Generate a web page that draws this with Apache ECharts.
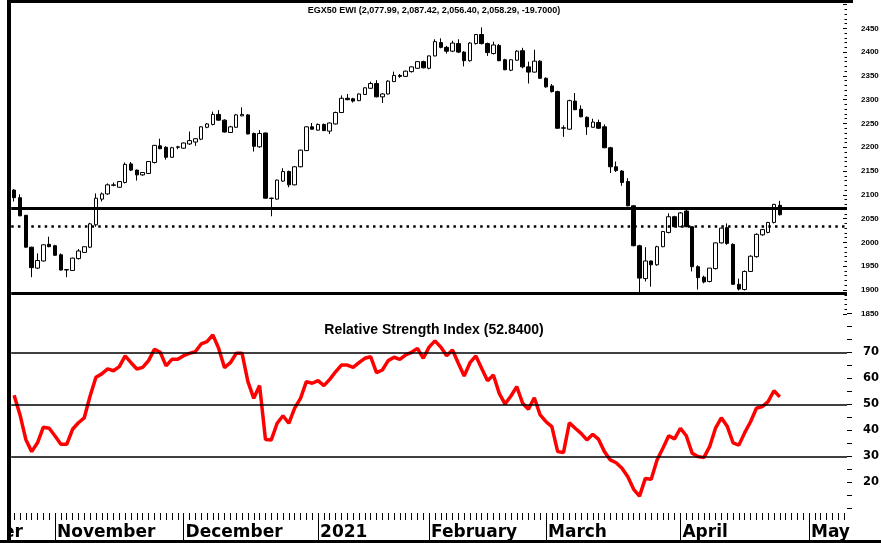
<!DOCTYPE html>
<html><head><meta charset="utf-8">
<script src="https://cdn.jsdelivr.net/npm/echarts@6/dist/echarts.min.js"></script>
<style>html,body{margin:0;padding:0;background:#fff}#c{width:881px;height:543px}</style>
</head><body><div id="c"></div>
<script>
// ---- data (open, high, low, close) per trading day ----
const candles = [
[2110,2112,2086,2094],[2094,2101,2055,2056],[2057,2058,1989,1990],[1990,1991,1927,1947],[1946,1977,1944,1962],
[1961,1996,1960,1995],[1996,2012,1990,1991],[1993,1995,1972,1973],[1974,1977,1941,1942],[1942,1943,1927,1943],
[1941,1968,1940,1967],[1966,1986,1964,1982],[1979,1991,1978,1991],[1990,2041,1988,2039],[2037,2103,2033,2093],
[2091,2105,2086,2102],[2102,2124,2100,2121],[2120,2126,2118,2121],[2116,2129,2115,2128],[2126,2168,2124,2164],
[2165,2169,2150,2152],[2152,2153,2130,2142],[2142,2148,2140,2147],[2145,2171,2144,2170],[2168,2205,2166,2204],
[2203,2218,2196,2197],[2200,2202,2174,2179],[2179,2201,2178,2199],[2200,2203,2196,2201],[2198,2210,2197,2209],
[2207,2233,2205,2214],[2211,2219,2203,2218],[2217,2244,2215,2243],[2242,2251,2240,2249],[2248,2275,2246,2269],
[2269,2278,2256,2257],[2257,2259,2231,2232],[2231,2245,2230,2243],[2242,2270,2241,2268],[2266,2284,2265,2269],
[2268,2270,2227,2228],[2229,2231,2191,2202],[2201,2236,2199,2229],[2230,2231,2092,2093],[2092.5,2094,2055,2093],
[2091,2132,2090,2131],[2129,2156,2127,2149],[2149,2151,2116,2121],[2121,2160,2120,2159],[2159,2195,2158,2194],
[2193,2244,2192,2243],[2243,2251,2237,2238],[2236,2250,2235,2248],[2248,2250,2234,2235],[2234,2252,2228,2251],
[2249,2275,2248,2273],[2273,2309,2272,2303],[2303,2312,2299,2300],[2302,2304,2294,2297],[2298,2313,2297,2312],
[2311,2326,2310,2325],[2324,2338,2323,2334],[2334,2341,2305,2306],[2306,2314,2293,2312],[2312,2341,2311,2339],
[2338,2359,2337,2351],[2351,2354,2346,2349],[2349,2361,2348,2360],[2359,2370,2357,2369],[2366,2381,2365,2380],
[2380,2382,2366,2367],[2366,2393,2364,2392],[2392,2427,2391,2422],[2420,2429,2408,2410],[2410,2413,2397,2402],
[2402,2424,2400,2419],[2418,2427,2398,2400],[2400,2402,2370,2382],[2382,2421,2380,2419],[2418,2438,2416,2437],
[2437,2452,2416,2418],[2418,2420,2392,2399],[2397,2422,2395,2415],[2414,2417,2381,2382],[2384,2386,2362,2363],
[2362,2385,2360,2384],[2383,2404,2382,2402],[2403,2409,2366,2369],[2369,2380,2334,2358],[2358,2405,2357,2381],
[2381,2383,2344,2345],[2345,2347,2325,2327],[2329,2333,2315,2317],[2317,2319,2239,2240],[2240,2246,2222,2241],
[2238,2300,2237,2298],[2297,2314,2278,2279],[2280,2288,2263,2264],[2263,2265,2226,2243],[2242,2260,2241,2253],
[2252,2258,2239,2240],[2243,2248,2198,2199],[2199,2201,2146,2159],[2159,2170,2148,2151],[2150,2152,2119,2126],
[2128,2135,2076,2077],[2077,2078,1992,1993],[1993,1995,1894,1925],[1924,1990,1918,1961],[1961,1962,1907,1953],
[1953,1993,1951,1991],[1991,2024,1990,2023],[2021,2061,2019,2054],[2054,2056,2032,2033],[2033,2064,2032,2062],
[2066,2071,2032,2033],[2033,2034,1939,1949],[1949,1952,1901,1926],[1927,1930,1914,1917],[1918,1946,1916,1946],
[1945,2000,1943,1999],[1999,2031,1998,2030],[2031,2040,1995,1998],[1996,1998,1911,1912],[1912,1924,1899,1902],
[1901,1941,1899,1939],[1939,1973,1938,1971],[1970,2019,1968,2017],[2016,2028,2014,2027],[2021,2043,2019,2042],
[2042,2081,2040,2080],[2077.99,2087.42,2056.40,2058.29]
];
const rsiValues = [
53.5,46,36.5,31.8,35.2,41.2,40.8,37.8,34.6,34.6,
40.4,42.9,44.8,53.2,60.4,61.7,63.6,62.9,64.5,68.6,
66,63.6,64.2,66.8,71.2,70,64.8,67.3,67.3,68.7,
69.6,70.2,73.2,74.1,76.7,71.5,64.1,66,69.6,69.6,
58.7,52.3,57.2,36.5,36.3,42.7,45.6,42.7,48.5,52.3,
58.7,58.1,59.1,57.2,59.6,62.5,65.1,65.1,64.2,66,
67.7,68.3,62.2,63.2,66.8,68.1,67.3,69,70,71.5,
67.7,72,74.4,72,68.7,70.9,65.8,60.9,66,68.6,
63.8,59.1,61.3,54.2,50.1,53.2,56.8,50.4,48.1,52.5,
45.9,43.3,41.4,31.8,31.5,42.9,40.8,38.8,36.3,38.5,
36.5,31.8,28.6,27.5,25.4,22.1,17.3,14.7,21.5,21.2,
28.6,33.1,37.9,36.7,40.8,37.9,31.2,29.9,29.5,33.7,
40.8,44.8,41.6,35.2,34.3,39.1,43.3,48.5,49.1,51,
55.2,52.84
];
const slotCount = 143;                       // trading-day slots on the axis (incl. future)
const monthLabelIdx = [2,7,29,52,71,91,114,136];
const monthLabelText = ['October','November','December','2021','February','March','April','May'];
const monthStartIdx = [7,29,52,71,91,114,136];
const priceLevels = {resistance:2072, pivot:2035, support:1894};
const rsiLevels = [70,50,30];
const priceAxisRange = [1850,2500,50];
const rsiAxisRange = [10,85,5];
const priceTitle = 'EGX50 EWI (2,077.99, 2,087.42, 2,056.40, 2,058.29, -19.7000)';
const rsiTitle = 'Relative Strength Index (52.8400)';

// ---- build ----
const slots = Array.from({length: slotCount}, (_, i) => String(i));
const labelledSlots = slots.map((s, i) => {
  const k = monthLabelIdx.indexOf(i);
  if (k < 0) return s;
  return k === 0
    ? {value: s, textStyle: {align: 'right', padding: [0, 3, 0, 0]}}
    : {value: s, textStyle: {align: 'left', padding: [0, 0, 0, 2]}};
});
const ohlc = candles.map(r => [r[0], r[3], r[2], r[1]]);

const L = 11.2, W = 835.8;
const chart = echarts.init(document.getElementById('c'), null, {renderer: 'canvas'});
const bold = {fontWeight: 'bold', color: '#000'};
chart.setOption({
  animation: false,
  backgroundColor: '#fff',
  title: [
    {text: priceTitle, left: 429, top: 1, textAlign: 'center',
     textStyle: Object.assign({fontFamily: 'Liberation Sans', fontSize: 9}, bold)},
    {text: rsiTitle, left: 429, top: 318, textAlign: 'center',
     textStyle: Object.assign({fontFamily: 'Liberation Sans', fontSize: 14}, bold)}
  ],
  grid: [
    {left: L, top: 4.54, width: W, height: 309.25, outerBoundsMode: 'none', containLabel: false},
    {left: L, top: 313.3, width: W, height: 195, outerBoundsMode: 'none', containLabel: false}
  ],
  xAxis: [
    {type: 'category', gridIndex: 0, position: 'bottom', data: slots, boundaryGap: true,
     axisLine: {show: false}, axisTick: {show: false}, axisLabel: {show: false}, splitLine: {show: false}},
    {type: 'category', gridIndex: 1, position: 'bottom', data: labelledSlots, boundaryGap: true, offset: 4.7,
     axisLine: {show: false},
     axisTick: {show: true, interval: 0, alignWithLabel: true, length: 7, lineStyle: {color: '#000', width: 1}},
     axisLabel: {show: true, interval: (i) => monthLabelIdx.includes(i), margin: 11, hideOverlap: false,
       formatter: (v, i) => monthLabelText[monthLabelIdx.indexOf(Number(v))] || '',
       fontFamily: 'DejaVu Sans', fontSize: 17, fontWeight: 'bold', color: '#000'},
     splitLine: {show: false}},
    {type: 'category', gridIndex: 1, position: 'bottom', data: slots, boundaryGap: true, offset: 4.7,
     axisLine: {show: false},
     axisTick: {show: true, interval: (i) => monthStartIdx.includes(i), alignWithLabel: true, length: 30,
       lineStyle: {color: '#000', width: 1}},
     axisLabel: {show: false}, splitLine: {show: false}}
  ],
  yAxis: [
    {type: 'value', gridIndex: 0, position: 'right', min: priceAxisRange[0], max: priceAxisRange[1], interval: priceAxisRange[2],
     axisLine: {show: false}, splitLine: {show: false},
     axisTick: {show: true, inside: true, length: 4, lineStyle: {color: '#000'}},
     minorTick: {show: true, splitNumber: 5, length: 2.5, lineStyle: {color: '#000'}},
     axisLabel: {margin: 14, fontFamily: 'Liberation Sans', fontSize: 8, fontWeight: 'bold', color: '#000',
       formatter: v => v === priceAxisRange[1] ? '' : String(v)}},
    {type: 'value', gridIndex: 1, position: 'right', min: rsiAxisRange[0], max: rsiAxisRange[1], interval: rsiAxisRange[2],
     axisLine: {show: false}, splitLine: {show: false},
     axisTick: {show: true, length: 5, lineStyle: {color: '#000'}},
     axisLabel: {margin: 16, fontFamily: 'DejaVu Sans', fontSize: 11.5, fontWeight: 'bold', color: '#000',
       formatter: v => (v >= 20 && v <= 70 && v % 10 === 0) ? String(v) : ''}}
  ],
  series: [
    {type: 'candlestick', xAxisIndex: 0, yAxisIndex: 0, data: ohlc, barWidth: 4,
     itemStyle: {color: '#fff', color0: '#000', borderColor: '#000', borderColor0: '#000', borderWidth: 1},
     markLine: {silent: true, symbol: 'none', label: {show: false},
       data: [
         {yAxis: priceLevels.resistance, lineStyle: {color: '#000', width: 3, type: 'solid'}},
         {yAxis: priceLevels.pivot, lineStyle: {color: '#000', width: 2.5, type: [2.5, 4.2]}},
         {yAxis: priceLevels.support, lineStyle: {color: '#000', width: 3, type: 'solid'}}
       ]}},
    {type: 'line', xAxisIndex: 1, yAxisIndex: 1, data: rsiValues, symbol: 'none',
     lineStyle: {color: '#ff0000', width: 3.5}, z: 3,
     markLine: {silent: true, symbol: 'none', label: {show: false},
       data: rsiLevels.map(v => ({yAxis: v, lineStyle: {color: '#000', width: 1.5, type: 'solid'}}))}}
  ],
  graphic: [
    {type: 'rect', left: 0, top: 0, shape: {width: 7, height: 543}, style: {fill: '#fff'}, z: 100},
    {type: 'rect', left: 7, top: 0, shape: {width: 4, height: 543}, style: {fill: '#000'}, z: 101},
    {type: 'rect', left: 7, top: 0, shape: {width: 846, height: 3}, style: {fill: '#000'}, z: 101},
    {type: 'rect', left: 0, top: 540, shape: {width: 881, height: 3}, style: {fill: '#000'}, z: 101}
  ]
});
</script></body></html>
